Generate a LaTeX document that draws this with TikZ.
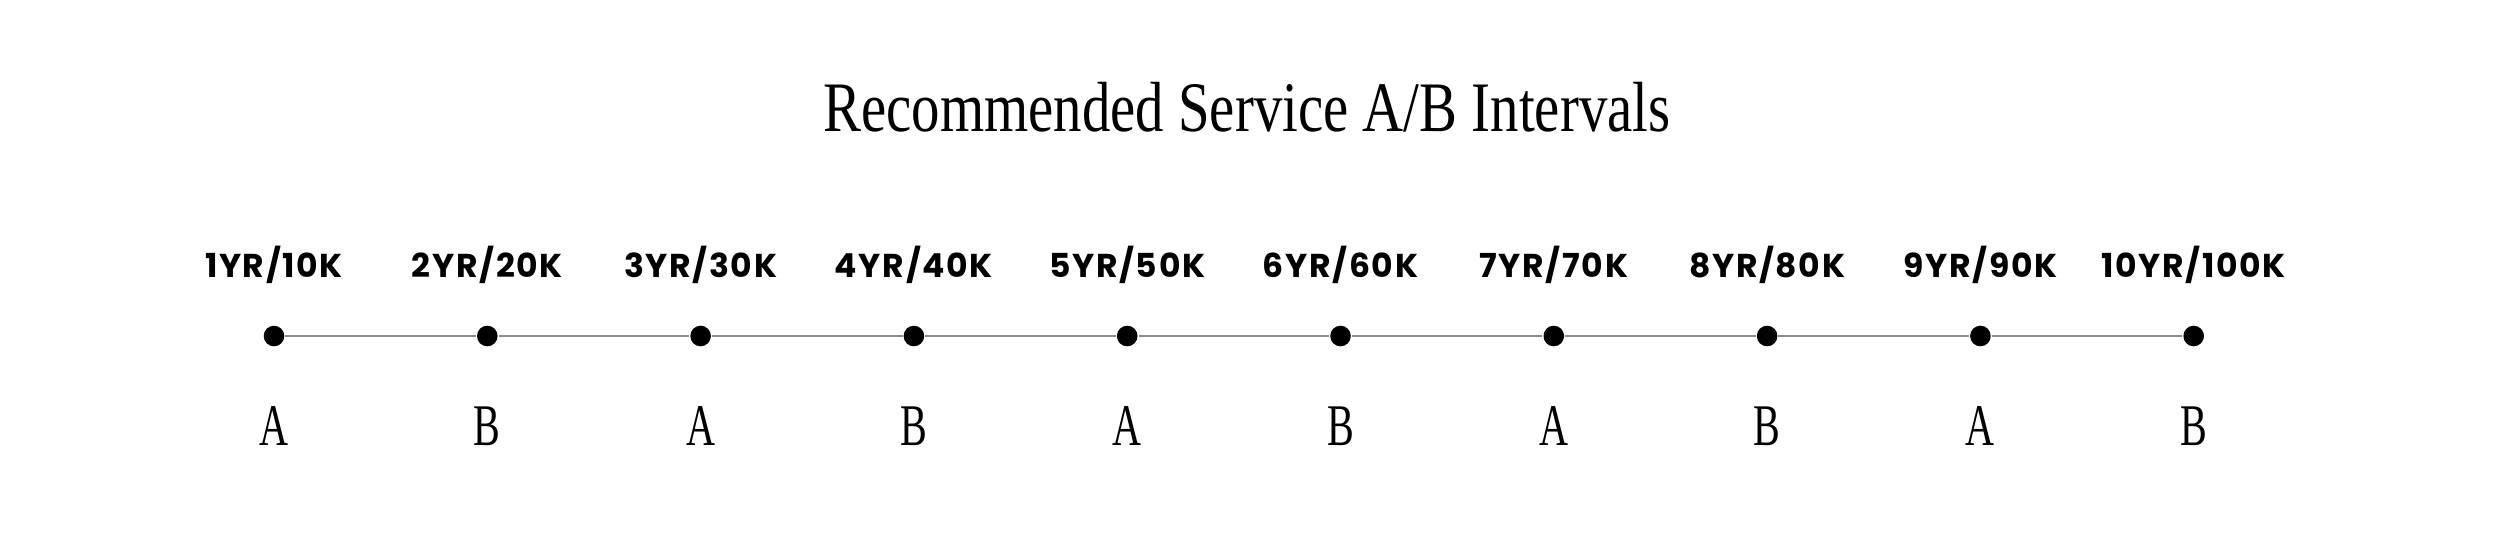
\documentclass[tikz,border=0pt]{standalone}
\usepackage{fontspec}
\newfontfamily\titlefont[FakeStretch=0.80]{Liberation Serif}
\newfontfamily\letterfont[FakeStretch=0.68]{Liberation Serif}
\newfontfamily\labelfont[LetterSpace=5]{Poppins}
\usetikzlibrary{positioning}

\begin{document}
\begin{tikzpicture}[auto, node distance = 21.33mm, % distance between dots
                semithick % line style
            ]

            \tikzstyle{dot}=[fill = black, circle, inner sep = 0pt,
            minimum size = 2.06mm]
            \tikzstyle{yrlabel}=[inner sep = 0pt,
            font = \labelfont\bfseries\fontsize{9.4}{10}\selectfont]
            \tikzstyle{svclabel}=[inner sep = 0pt,
            font = \letterfont\fontsize{16.8}{18}\selectfont]
            \tikzstyle{heading}=[inner sep = 0pt, anchor = base,
            font = \titlefont\fontsize{20.2}{22}\selectfont]
            \tikzstyle{line}=[draw = black!45, line width = 0.6pt]

            \useasboundingbox (0,0) rectangle (25,5.53);

            \node[heading] (title) at (12.47,4.22)
            {Recommended Service A/B Intervals};

            \node[dot] (1) at (2.74,2.17) {}; \node[dot] (2) [right of=1] {};
            \node[dot] (3) [right of=2] {}; \node[dot] (4) [right of=3] {};
            \node[dot] (5) [right of=4] {}; \node[dot] (6) [right of=5] {};
            \node[dot] (7) [right of=6] {}; \node[dot] (8) [right of=7] {};
            \node[dot] (9) [right of=8] {}; \node[dot] (10) [right of=9] {};

            \path[line] (1) edge (2); \path[line] (2) edge (3); \path[line]
            (3) edge (4); \path[line] (4) edge (5); \path[line] (5) edge (6);
            \path[line] (6) edge (7); \path[line] (7) edge (8); \path[line]
            (8) edge (9); \path[line] (9) edge (10);

            % mileage above each dot
            \node[yrlabel, above=5.85mm of 1.center, anchor=base] (y1) {1YR/10K};
            \node[yrlabel, above=5.85mm of 2.center, anchor=base] (y2) {2YR/20K};
            \node[yrlabel, above=5.85mm of 3.center, anchor=base] (y3) {3YR/30K};
            \node[yrlabel, above=5.85mm of 4.center, anchor=base] (y4) {4YR/40K};
            \node[yrlabel, above=5.85mm of 5.center, anchor=base] (y5) {5YR/50K};
            \node[yrlabel, above=5.85mm of 6.center, anchor=base] (y6) {6YR/60K};
            \node[yrlabel, above=5.85mm of 7.center, anchor=base] (y7) {7YR/70K};
            \node[yrlabel, above=5.85mm of 8.center, anchor=base] (y8) {8YR/80K};
            \node[yrlabel, above=5.85mm of 9.center, anchor=base] (y9) {9YR/90K};
            \node[yrlabel, above=5.85mm of 10.center, anchor=base] (y10) {10YR/100K};

            % service type below each dot
            \node[svclabel, below=10.9mm of 1.center, anchor=base] (s1) {A};
            \node[svclabel, below=10.9mm of 2.center, anchor=base] (s2) {B};
            \node[svclabel, below=10.9mm of 3.center, anchor=base] (s3) {A};
            \node[svclabel, below=10.9mm of 4.center, anchor=base] (s4) {B};
            \node[svclabel, below=10.9mm of 5.center, anchor=base] (s5) {A};
            \node[svclabel, below=10.9mm of 6.center, anchor=base] (s6) {B};
            \node[svclabel, below=10.9mm of 7.center, anchor=base] (s7) {A};
            \node[svclabel, below=10.9mm of 8.center, anchor=base] (s8) {B};
            \node[svclabel, below=10.9mm of 9.center, anchor=base] (s9) {A};
            \node[svclabel, below=10.9mm of 10.center, anchor=base] (s10) {B};
        \end{tikzpicture}
\end{document}
